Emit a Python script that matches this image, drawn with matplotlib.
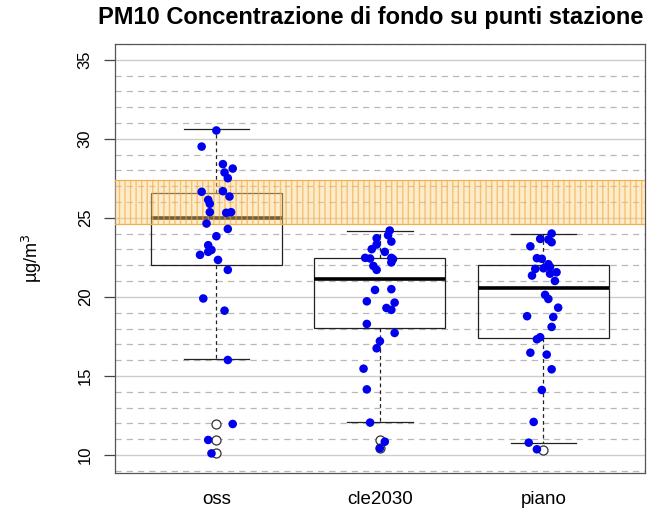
import matplotlib
matplotlib.use("Agg")
import matplotlib.pyplot as plt
import numpy as np

plt.rcParams['font.family'] = ['Liberation Sans', 'DejaVu Sans']

title = "PM10 Concentrazione di fondo su punti stazione"
categories = ["oss", "cle2030", "piano"]
ylabel = "µg/m$^{3}$"
yticks = [10, 15, 20, 25, 30, 35]

# jittered station values (y) and horizontal jitter offsets
oss_vals = [30.53, 29.51, 28.40, 28.12, 27.87, 27.51, 26.65, 26.69, 26.35, 26.14,
            25.89, 25.36, 25.32, 25.36, 24.64, 24.30, 23.84, 23.27, 22.97, 22.85,
            22.66, 22.34, 21.71, 19.90, 19.13, 16.01, 11.96, 10.95, 10.10]
oss_jit = [0.00, -0.09, 0.04, 0.10, 0.05, 0.07, -0.09, 0.04, 0.08, -0.05,
           -0.04, -0.04, 0.06, 0.09, -0.06, 0.07, 0.00, -0.05, -0.03, -0.05,
           -0.10, 0.01, 0.07, -0.08, 0.05, 0.07, 0.10, -0.05, -0.03]

cle_vals = [24.20, 23.90, 23.71, 23.50, 23.31, 23.02, 22.85, 22.47, 22.43, 22.47,
            22.39, 22.18, 21.96, 21.71, 20.44, 20.49, 19.72, 19.64, 19.30, 19.18,
            18.29, 17.72, 17.20, 16.75, 15.46, 14.15, 12.05, 10.84, 10.42]
cle_jit = [0.06, 0.05, -0.02, 0.07, -0.02, -0.05, 0.03, -0.09, -0.06, 0.07,
           0.08, 0.07, -0.04, -0.02, -0.03, 0.07, -0.08, 0.09, 0.04, 0.07,
           -0.08, 0.09, 0.00, -0.02, -0.10, -0.08, -0.06, 0.03, 0.00]

piano_vals = [24.01, 23.67, 23.63, 23.46, 23.20, 22.45, 22.41, 22.07, 21.90, 21.77,
              21.81, 21.56, 21.47, 21.35, 21.01, 20.13, 19.87, 19.32, 18.78, 18.73,
              18.10, 17.45, 17.32, 16.47, 16.35, 15.42, 14.11, 12.09, 10.78, 10.36]
piano_jit = [0.05, -0.02, 0.03, 0.05, -0.08, -0.04, -0.01, 0.03, 0.04, -0.05,
             0.00, 0.08, 0.04, -0.07, 0.07, 0.01, 0.03, 0.09, -0.10, 0.06,
             0.05, -0.02, -0.04, -0.08, 0.02, 0.05, -0.01, -0.06, -0.09, -0.04]

# box statistics
box_whislo = [16.10, 12.09, 10.76]
box_q1 = [22.00, 18.04, 17.40]
box_med = [25.00, 21.14, 20.57]
box_q3 = [26.60, 22.47, 22.03]
box_whishi = [30.60, 24.18, 23.99]
box_fliers = [[11.96, 10.95, 10.10], [10.95, 10.45], [10.32]]

# reference band (limit range)
band_low = 24.6
band_high = 27.4

fig = plt.figure(figsize=(6.54, 5.08), dpi=100)
ax = fig.add_axes([0.1758, 0.0689, 0.8102, 0.8445])

ylim = (8.86, 36.0)
ax.set_ylim(*ylim)
ax.set_xlim(0.38, 3.62)

# grid: solid at major ticks, dashed at other integers
for v in range(9, 37):
    if v % 5 == 0:
        ax.axhline(v, color='#cccccc', lw=1.0, zorder=0)
    else:
        ax.axhline(v, color='#b8b8b8', lw=0.9, ls=(0, (5, 4)), zorder=0)

stats = []
for i, name in enumerate(categories):
    stats.append(dict(label=name, whislo=box_whislo[i], q1=box_q1[i], med=box_med[i],
                      q3=box_q3[i], whishi=box_whishi[i], fliers=box_fliers[i]))

ax.bxp(stats, positions=[1, 2, 3], widths=0.8, patch_artist=True, showfliers=True,
       boxprops=dict(facecolor='none', edgecolor='#222222', lw=0.9),
       medianprops=dict(color='black', lw=2.6),
       whiskerprops=dict(color='#222222', lw=0.9, ls=(0, (3, 2.5))),
       capprops=dict(color='#222222', lw=0.9),
       capwidths=0.4,
       flierprops=dict(marker='o', markerfacecolor='white', markeredgecolor='#333333',
                       markersize=6.5, markeredgewidth=0.9),
       zorder=2)

# band
ax.axhspan(band_low, band_high, facecolor='#fbd38a', alpha=0.45, edgecolor='none', zorder=3)
ax.axhspan(band_low, band_high, facecolor='none', edgecolor='#f0a838', hatch='|||',
           lw=0, alpha=0.6, zorder=3)
ax.axhline(band_low, color='#f0b050', lw=0.9, zorder=3)
ax.axhline(band_high, color='#f0b050', lw=0.9, zorder=3)

for i, (vals, jit) in enumerate([(oss_vals, oss_jit), (cle_vals, cle_jit), (piano_vals, piano_jit)]):
    xs = np.array(jit) + (i + 1)
    ax.scatter(xs, vals, s=38, color='#0000ee', edgecolors='none', zorder=4)

ax.set_yticks(yticks)
ax.set_yticklabels([str(t) for t in yticks], rotation=90, va='center', fontsize=12)
ax.tick_params(axis='y', length=8, width=0.9, color='#444444', pad=8)
ax.set_xticks([1, 2, 3])
ax.set_xticklabels(categories, fontsize=13.5)
ax.tick_params(axis='x', length=0, pad=13)

for s in ax.spines.values():
    s.set_color('#555555')
    s.set_linewidth(0.9)

ax.set_ylabel(ylabel, fontsize=13, labelpad=24)
fig.text(0.567, 0.966, title, ha='center', va='center', fontsize=17, fontweight='bold')

fig.savefig("out.png", dpi=100)
